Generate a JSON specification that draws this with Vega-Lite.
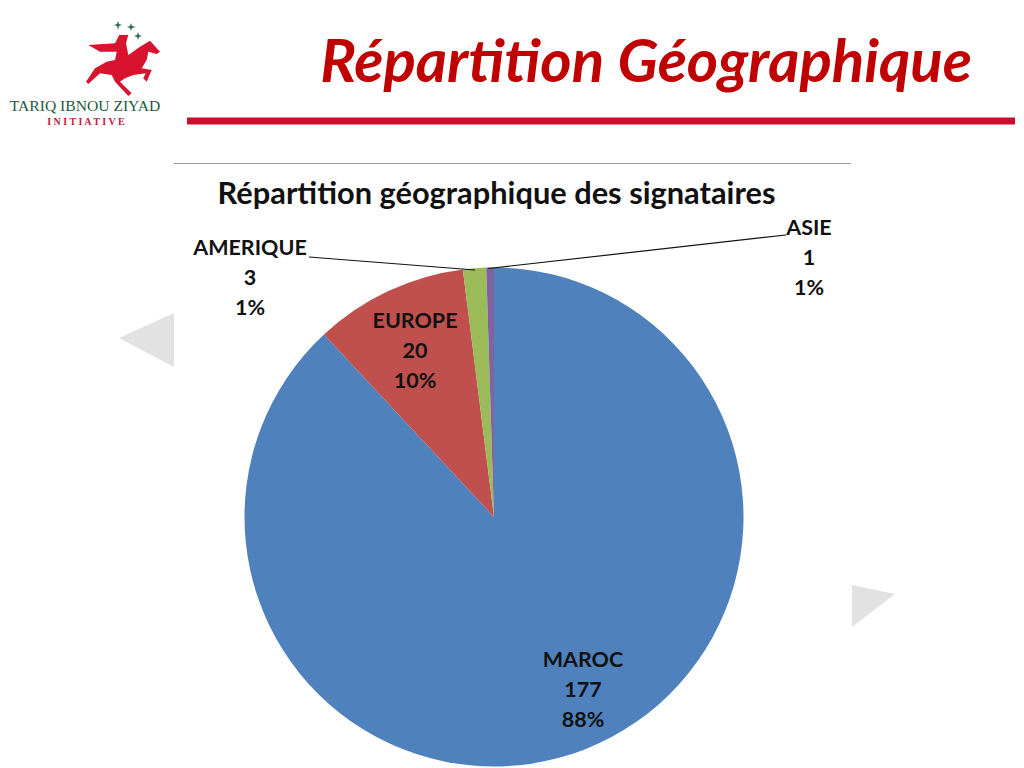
{"$schema":"https://vega.github.io/schema/vega-lite/v6.json","width":1024,"height":768,"autosize":{"type":"fit","contains":"padding"},"padding":0,"background":"white","view":{"stroke":null},
"data":{"values":[
{"region":"MAROC","count":177,"rank":1,"label":"MAROC\n177\n88%"},
{"region":"EUROPE","count":20,"rank":2,"label":"EUROPE\n20\n10%"},
{"region":"AMERIQUE","count":3,"rank":3,"label":"AMERIQUE\n3\n1%"},
{"region":"ASIE","count":1,"rank":4,"label":"ASIE\n1\n1%"}]},
"layer":[
{"data":{"values":[{"s":1}]},"mark":{"type":"point","shape":"M119 338L174 313L174 367Z","size":4,"filled":true,"color":"#e2e2e2","opacity":1},"encoding":{"x":{"value":0},"y":{"value":0}}},
{"data":{"values":[{"s":1}]},"mark":{"type":"point","shape":"M852 585L895 594L852 627Z","size":4,"filled":true,"color":"#e2e2e2","opacity":1},"encoding":{"x":{"value":0},"y":{"value":0}}},
{"data":{"values":[{"s":1}]},"mark":{"type":"point","shape":"M88.3 45L115 43.3L119.3 35L128.3 35L126 43.3L128.3 55L140 46.7L150 40.7L160 51.7L156.7 54L148.3 51.7L146.7 60L141.7 68.3L151.7 70L146.7 81.7L143.3 78.3L145.7 73.3L133.3 75L125 78.3L120 81.7L131.7 93.3L128.3 96L115 81.7L111.7 75L100 73.3L88.3 84L86 81.7L95 68.3L106.7 61.7L115 60L116.7 51.7L100 51.7Z","size":4,"filled":true,"color":"#d8132f","opacity":1},"encoding":{"x":{"value":0},"y":{"value":0}}},
{"data":{"values":[{"s":1}]},"mark":{"type":"point","shape":"M118 21L119 24L122 25L119 26L118 30L117 26L114 25L117 24ZM131 23L132 26L136 27L132 28L131 31L130 28L127 27L130 26ZM138 32L139 35L142 36L139 37L138 40L137 37L134 36L137 35Z","size":4,"filled":true,"color":"#2e6b4a","opacity":1},"encoding":{"x":{"value":0},"y":{"value":0}}},
{"data":{"values":[{"t":"TARIQ IBNOU ZIYAD"}]},"mark":{"type":"text","font":"Liberation Serif","fontSize":15.6,"color":"#23593f","align":"center","baseline":"middle"},"encoding":{"text":{"field":"t"},"x":{"value":85},"y":{"value":106}}},
{"data":{"values":[{"t":"I N I T I A T I V E"}]},"mark":{"type":"text","font":"Liberation Serif","fontSize":10,"fontWeight":"bold","color":"#c0203a","align":"center","baseline":"middle"},"encoding":{"text":{"field":"t"},"x":{"value":86},"y":{"value":122}}},
{"data":{"values":[{"t":"Répartition Géographique"}]},"mark":{"type":"text","font":"Lato","fontSize":60,"fontWeight":"bold","fontStyle":"italic","color":"#c00000","align":"center","baseline":"alphabetic"},"encoding":{"text":{"field":"t"},"x":{"value":646},"y":{"value":82}}},
{"data":{"values":[{"s":1}]},"mark":{"type":"rule","color":"#c8102e","strokeWidth":7},"encoding":{"x":{"value":187},"x2":{"value":1015},"y":{"value":121},"y2":{"value":121}}},
{"data":{"values":[{"s":1}]},"mark":{"type":"rule","color":"#999999","strokeWidth":1},"encoding":{"x":{"value":174},"x2":{"value":851},"y":{"value":163.5},"y2":{"value":163.5}}},
{"data":{"values":[{"t":"Répartition géographique des signataires"}]},"mark":{"type":"text","font":"Lato","fontSize":30.8,"fontWeight":"bold","color":"#111111","align":"center","baseline":"middle"},"encoding":{"text":{"field":"t"},"x":{"value":496.5},"y":{"value":195}}},
{"mark":{"type":"arc","radius":249.5,"stroke":null},"encoding":{"theta":{"field":"count","type":"quantitative","stack":true},"order":{"field":"rank","type":"quantitative"},"color":{"field":"region","type":"nominal","legend":null,"scale":{"domain":["MAROC","EUROPE","AMERIQUE","ASIE"],"range":["#4f81bd","#c0504d","#9bbb59","#8064a2"]}},"x":{"value":494},"y":{"value":517}}},
{"data":{"values":[{"s":1}]},"mark":{"type":"rule","color":"#111111","strokeWidth":1.2},"encoding":{"x":{"value":309},"x2":{"value":475},"y":{"value":257},"y2":{"value":270}}},
{"data":{"values":[{"s":1}]},"mark":{"type":"rule","color":"#111111","strokeWidth":1.2},"encoding":{"x":{"value":786},"x2":{"value":488},"y":{"value":235},"y2":{"value":268.5}}},
{"transform":[{"filter":"datum.region==='MAROC'"}],"mark":{"type":"text","font":"Lato","fontSize":21.5,"fontWeight":"bold","color":"#111111","lineBreak":"\n","lineHeight":30,"align":"center","baseline":"middle"},"encoding":{"text":{"field":"label"},"x":{"value":583},"y":{"value":661}}},
{"transform":[{"filter":"datum.region==='EUROPE'"}],"mark":{"type":"text","font":"Lato","fontSize":21.5,"fontWeight":"bold","color":"#111111","lineBreak":"\n","lineHeight":30,"align":"center","baseline":"middle"},"encoding":{"text":{"field":"label"},"x":{"value":415},"y":{"value":322}}},
{"transform":[{"filter":"datum.region==='AMERIQUE'"}],"mark":{"type":"text","font":"Lato","fontSize":21.5,"fontWeight":"bold","color":"#111111","lineBreak":"\n","lineHeight":30,"align":"center","baseline":"middle"},"encoding":{"text":{"field":"label"},"x":{"value":250},"y":{"value":249}}},
{"transform":[{"filter":"datum.region==='ASIE'"}],"mark":{"type":"text","font":"Lato","fontSize":21.5,"fontWeight":"bold","color":"#111111","lineBreak":"\n","lineHeight":30,"align":"center","baseline":"middle"},"encoding":{"text":{"field":"label"},"x":{"value":809},"y":{"value":229}}}
]}
